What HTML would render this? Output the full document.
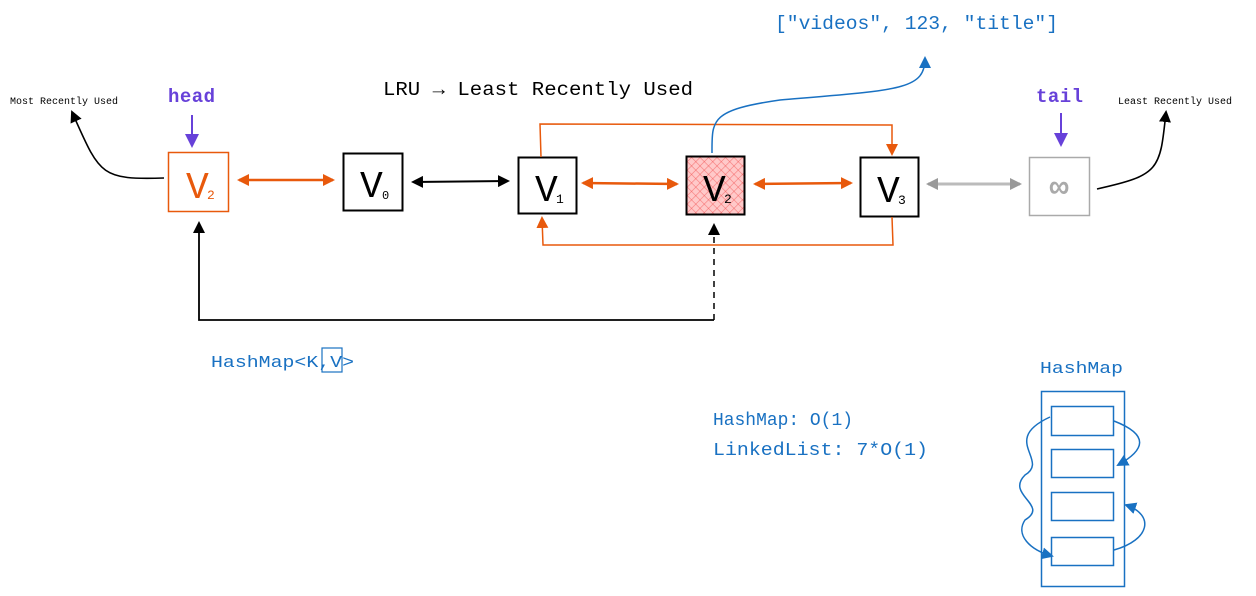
<!DOCTYPE html>
<html><head><meta charset="utf-8"><style>
html,body{margin:0;padding:0;background:#fff;}
svg{display:block;}
text{font-family:"Liberation Mono",monospace;}
</style></head><body>
<svg width="1256" height="596" viewBox="0 0 1256 596" xmlns="http://www.w3.org/2000/svg">
<defs>
<marker id="ao" markerWidth="12" markerHeight="12" refX="10" refY="6" orient="auto-start-reverse" markerUnits="userSpaceOnUse"><path d="M0,0 L12,6 L0,12 z" fill="#e8590c"/></marker>
<marker id="ab" markerWidth="12" markerHeight="12" refX="10" refY="6" orient="auto-start-reverse" markerUnits="userSpaceOnUse"><path d="M0,0 L12,6 L0,12 z" fill="#000"/></marker>
<marker id="ag" markerWidth="12" markerHeight="12" refX="10" refY="6" orient="auto-start-reverse" markerUnits="userSpaceOnUse"><path d="M0,0 L12,6 L0,12 z" fill="#999"/></marker>
<marker id="ap" markerWidth="14" markerHeight="14" refX="12" refY="7" orient="auto" markerUnits="userSpaceOnUse"><path d="M0,0 L14,7 L0,14 z" fill="#6741d9"/></marker>
<marker id="abl" markerWidth="12" markerHeight="12" refX="10" refY="6" orient="auto" markerUnits="userSpaceOnUse"><path d="M0,0 L12,6 L0,12 z" fill="#1971c2"/></marker>
<pattern id="hatch" width="6" height="6" patternUnits="userSpaceOnUse" patternTransform="rotate(45)"><rect width="6" height="6" fill="#ffc9c9"/><line x1="0" y1="0" x2="0" y2="6" stroke="#f03e3e" stroke-width="1.2" opacity="0.6"/><line x1="0" y1="0" x2="6" y2="0" stroke="#f03e3e" stroke-width="1.2" opacity="0.6"/></pattern>
</defs>

<text x="775" y="29" font-size="19" fill="#1971c2" textLength="283" lengthAdjust="spacingAndGlyphs">["videos", 123, "title"]</text>
<text x="383" y="95" font-size="19" fill="#000" textLength="310" lengthAdjust="spacingAndGlyphs">LRU → Least Recently Used</text>
<text x="10" y="104" font-size="10" fill="#000">Most Recently Used</text>
<text x="1118" y="104" font-size="10" fill="#000">Least Recently Used</text>
<text x="168" y="102" font-size="19" font-weight="bold" fill="#6741d9" textLength="47">head</text>
<text x="1036" y="102" font-size="19" font-weight="bold" fill="#6741d9" textLength="47">tail</text>
<line x1="192" y1="115" x2="192" y2="146" stroke="#6741d9" stroke-width="2" marker-end="url(#ap)"/>
<line x1="1061" y1="113" x2="1061" y2="145" stroke="#6741d9" stroke-width="2" marker-end="url(#ap)"/>

<path d="M164,178 C100,180 100,175 72,112" fill="none" stroke="#000" stroke-width="1.6" marker-end="url(#ab)"/>
<path d="M1097,189 C1160,175 1160,170 1166,112" fill="none" stroke="#000" stroke-width="1.6" marker-end="url(#ab)"/>

<rect x="168.5" y="152.5" width="60" height="59" fill="#fff" stroke="#e8590c" stroke-width="1.5"/>
<text x="186" y="198" font-size="38" fill="#e8590c" font-family="Liberation Sans,sans-serif">V</text><text x="207" y="199" font-size="13" fill="#e8590c" font-family="Liberation Sans,sans-serif">2</text>
<rect x="343.5" y="153.5" width="59" height="57" fill="#fff" stroke="#000" stroke-width="2"/>
<text x="360" y="197" font-size="38" fill="#000" font-family="Liberation Sans,sans-serif">V</text><text x="382" y="199" font-size="12" fill="#000">0</text>
<rect x="518.5" y="157.5" width="58" height="56" fill="#fff" stroke="#000" stroke-width="2"/>
<text x="535" y="201" font-size="38" fill="#000" font-family="Liberation Sans,sans-serif">V</text><text x="556" y="203" font-size="13" fill="#000" font-family="Liberation Sans,sans-serif">1</text>
<rect x="686.5" y="156.5" width="58" height="58" fill="url(#hatch)" stroke="#000" stroke-width="2"/>
<text x="703" y="201" font-size="38" fill="#000" font-family="Liberation Sans,sans-serif">V</text><text x="724" y="203" font-size="13" fill="#000" font-family="Liberation Sans,sans-serif">2</text>
<rect x="860.5" y="157.5" width="58" height="59" fill="#fff" stroke="#000" stroke-width="2"/>
<text x="877" y="202" font-size="38" fill="#000" font-family="Liberation Sans,sans-serif">V</text><text x="898" y="204" font-size="13" fill="#000" font-family="Liberation Sans,sans-serif">3</text>
<rect x="1029.5" y="157.5" width="60" height="58" fill="#fff" stroke="#aaa" stroke-width="1.5"/>
<text x="1059" y="197" font-size="32" font-weight="bold" fill="#aaa" text-anchor="middle" font-family="DejaVu Sans,sans-serif">∞</text>

<line x1="239" y1="180" x2="333" y2="180" stroke="#e8590c" stroke-width="2.5" marker-start="url(#ao)" marker-end="url(#ao)"/>
<line x1="413" y1="182" x2="508" y2="181" stroke="#000" stroke-width="2" marker-start="url(#ab)" marker-end="url(#ab)"/>
<line x1="583" y1="183" x2="677" y2="184" stroke="#e8590c" stroke-width="2.5" marker-start="url(#ao)" marker-end="url(#ao)"/>
<line x1="755" y1="184" x2="851" y2="183" stroke="#e8590c" stroke-width="2.5" marker-start="url(#ao)" marker-end="url(#ao)"/>
<line x1="928" y1="184" x2="1020" y2="184" stroke="#bbb" stroke-width="3" marker-start="url(#ag)" marker-end="url(#ag)"/>

<path d="M541,157 L540,124 L892,125 L892,154" fill="none" stroke="#e8590c" stroke-width="1.5" marker-end="url(#ao)"/>
<path d="M892,217 L893,245 L543,245 L542,218" fill="none" stroke="#e8590c" stroke-width="1.5" marker-end="url(#ao)"/>

<path d="M712,153 C712,120 710,110 780,100 C900,90 925,90 925,58" fill="none" stroke="#1971c2" stroke-width="1.5" marker-end="url(#abl)"/>

<line x1="714" y1="320" x2="714" y2="225" stroke="#000" stroke-width="1.5" stroke-dasharray="6,5" marker-end="url(#ab)"/>
<path d="M714,320 L199,320 L199,223" fill="none" stroke="#000" stroke-width="1.8" marker-end="url(#ab)"/>

<text x="211" y="367" font-size="17" fill="#1971c2" textLength="143" lengthAdjust="spacingAndGlyphs">HashMap&lt;K,V&gt;</text>
<rect x="322" y="348" width="20" height="24" fill="none" stroke="#1971c2" stroke-width="1.2"/>
<text x="713" y="425" font-size="18" fill="#1971c2" textLength="140" lengthAdjust="spacingAndGlyphs">HashMap: O(1)</text>
<text x="713" y="455" font-size="18" fill="#1971c2" textLength="215" lengthAdjust="spacingAndGlyphs">LinkedList: 7*O(1)</text>

<text x="1040" y="373" font-size="17" fill="#1971c2" textLength="83" lengthAdjust="spacingAndGlyphs">HashMap</text>
<g fill="none" stroke="#1971c2" stroke-width="1.5">
<rect x="1041.5" y="391.5" width="83" height="195"/>
<rect x="1051.5" y="406.5" width="62" height="29"/>
<rect x="1051.5" y="449.5" width="62" height="28"/>
<rect x="1051.5" y="492.5" width="62" height="28"/>
<rect x="1051.5" y="537.5" width="62" height="28"/>
<path d="M1114,421 C1150,435 1145,450 1118,465" marker-end="url(#abl)"/>
<path d="M1114,550 C1150,540 1155,515 1126,505" marker-end="url(#abl)"/>
<path d="M1050,417 C1000,440 1050,460 1025,475 C1005,495 1050,505 1025,520 C1015,535 1030,550 1052,556" marker-end="url(#abl)"/>
</g>
</svg>
</body></html>
